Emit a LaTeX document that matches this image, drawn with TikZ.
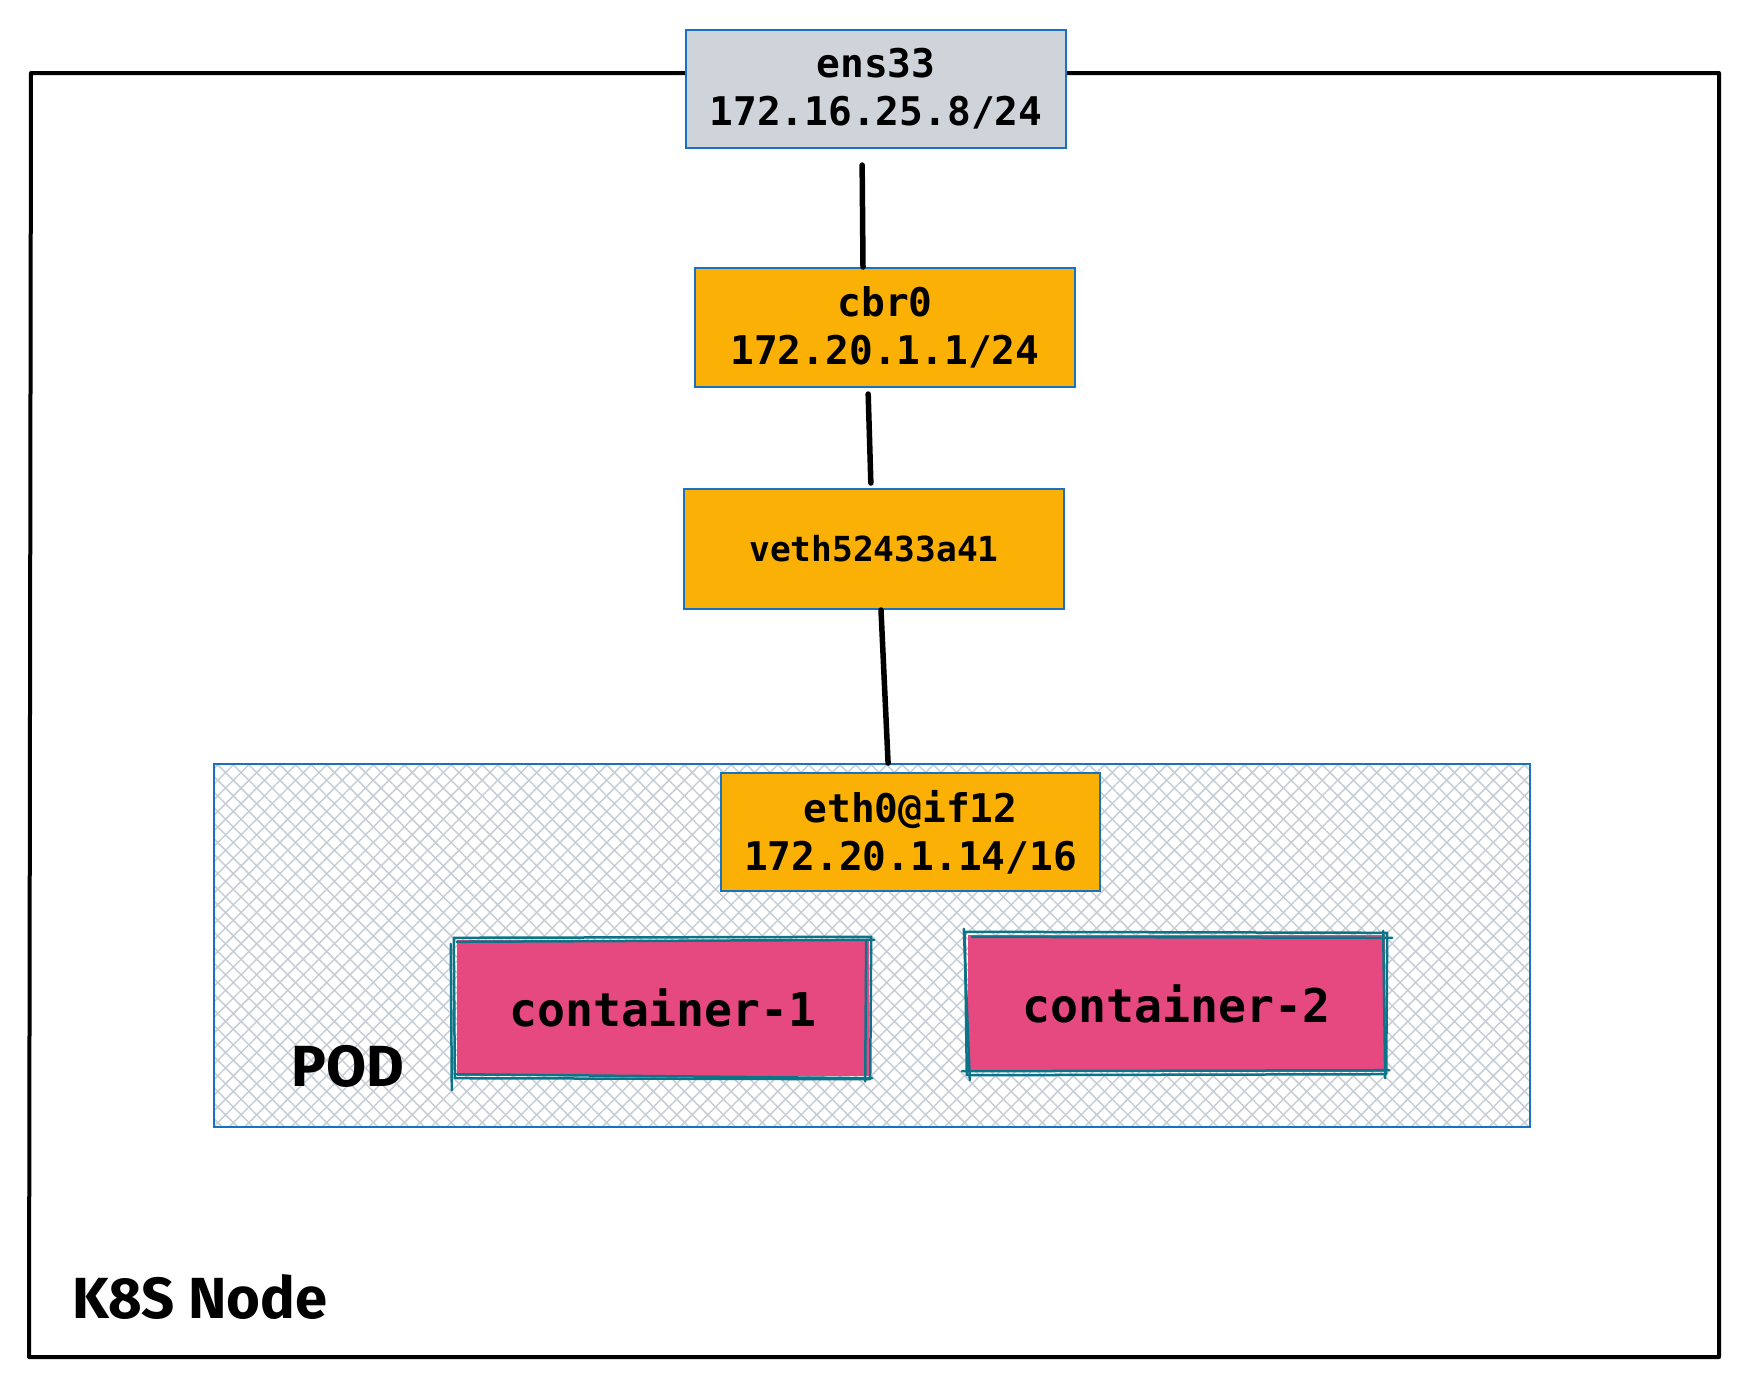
\documentclass[tikz,border=0pt]{standalone}
\usepackage{fontspec}
\setmainfont{DejaVu Sans}
\newfontfamily\monof{DejaVu Sans Mono}
\newfontfamily\handf{Fira Sans}
\usetikzlibrary{patterns.meta,calc}
\definecolor{boxblue}{HTML}{1971C2}
\definecolor{ifgray}{HTML}{CED4DA}
\definecolor{iforange}{HTML}{FAB005}
\definecolor{cpink}{HTML}{E64980}
\definecolor{cteal}{HTML}{0C7489}
\definecolor{hatchc}{HTML}{C8CED6}
\begin{document}
\begin{tikzpicture}[x=1pt,y=-1pt,
  iface/.style={draw=boxblue, line width=2pt, minimum width=380pt, minimum height=118pt, inner sep=0pt, align=center, font=\monof\bfseries\fontsize{39.5}{48}\selectfont},
  link/.style={line width=5.5pt, line cap=round},
  ctr/.style={fill=cpink, minimum width=412pt, minimum height=136pt, inner sep=0pt, font=\monof\bfseries\fontsize{46.5}{55}\selectfont},
  sketch/.style={draw=cteal, line width=2.5pt, line cap=round, line join=round},
  hand/.style={font=\handf\bfseries\fontsize{58}{70}\selectfont, inner sep=0pt}]
\useasboundingbox (0,0) rectangle (1749,1387);
\fill[white] (0,0) rectangle (1749,1387);
% K8S node frame
\draw[line width=4pt, line join=round] (31,73) -- (1719,73) -- (1719,1357) -- (29,1357) -- cycle;
% POD
\node[minimum width=1316pt, minimum height=363pt, inner sep=0pt] (pod) at (872,945.5) {};
\path[pattern={Lines[angle=45,distance=11pt,line width=1.5pt]}, pattern color=hatchc] (pod.north west) rectangle (pod.south east);
\path[pattern={Lines[angle=-45,distance=11pt,line width=1.5pt]}, pattern color=hatchc] (pod.north west) rectangle (pod.south east);
\draw[boxblue, line width=2.5pt] (pod.north west) rectangle (pod.south east);
% interfaces
\node[iface, fill=ifgray] (ens) at (876,89) {ens33\\172.16.25.8/24};
\node[iface, fill=iforange, minimum height=119pt] (cbr) at (885,327.5) {cbr0\\ 172.20.1.1/24};
\node[iface, fill=iforange, minimum height=120pt, font=\monof\bfseries\fontsize{34.5}{41}\selectfont] (veth) at (874,549) {veth52433a41};
\node[iface, fill=iforange, minimum width=379pt] (eth) at (910.5,832) {eth0@if12\\172.20.1.14/16};
% links
\draw[link, shorten <=16pt] ([xshift=-14pt]ens.south) -- ([xshift=-22pt]cbr.north);
\draw[link, shorten <=6pt, shorten >=5pt] ([xshift=-17pt]cbr.south) -- ([xshift=-3pt]veth.north);
\draw[link, shorten >=9pt] ([xshift=7pt]veth.south) -- ([xshift=-22pt]eth.north);
% containers
\node[ctr] (c1) at (663,1008) {container-1};
\draw[sketch] ([shift={(-3,-2)}]c1.north west) -- ([shift={(2,-3)}]c1.north east) -- ([shift={(1,3)}]c1.south east) -- ([shift={(-2,2)}]c1.south west) -- cycle;
\draw[sketch] ([shift={(-6,4)}]c1.north west) -- ([shift={(-5,14)}]c1.south west);
\draw[sketch] ([shift={(0,2)}]c1.north west) -- ([shift={(5,0)}]c1.north east);
\draw[sketch] ([shift={(-2,-2)}]c1.south west) -- ([shift={(3,2)}]c1.south east);
\draw[sketch] ([shift={(-3,0)}]c1.north east) -- ([shift={(-4,5)}]c1.south east);
\node[ctr, minimum width=417pt, minimum height=137pt] (c2) at (1176.5,1003.5) {container-2};
\draw[sketch] ([shift={(-3,-3)}]c2.north west) -- ([shift={(2,-2)}]c2.north east) -- ([shift={(1,2)}]c2.south east) -- ([shift={(-1,3)}]c2.south west) -- cycle;
\draw[sketch] ([shift={(-4,-6)}]c2.north west) -- ([shift={(2,8)}]c2.south west);
\draw[sketch] ([shift={(4,2)}]c2.north west) -- ([shift={(7,3)}]c2.north east);
\draw[sketch] ([shift={(-6,-1)}]c2.south west) -- ([shift={(4,-2)}]c2.south east);
\draw[sketch] ([shift={(-2,-4)}]c2.north east) -- ([shift={(0,6)}]c2.south east);
% labels
\node[hand] (podlabel) at (348,1066) {POD};
\node[hand, anchor=west] (k8slabel) at (72,1297) {K8S Node};
\end{tikzpicture}
\end{document}
